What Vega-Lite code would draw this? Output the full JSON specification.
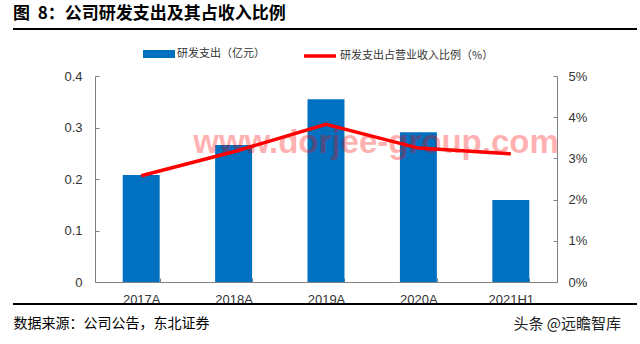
{
  "$schema": "https://vega.github.io/schema/vega-lite/v6.json",
  "width": 462,
  "height": 206,
  "autosize": {"type": "none"},
  "padding": {"left": 95, "top": 76, "right": 83, "bottom": 62},
  "background": "white",
  "config": {
    "view": {"stroke": null},
    "font": "Liberation Sans",
    "axis": {"grid": false, "domainColor": "#808080", "tickColor": "#808080", "labelColor": "#333333", "labelFontSize": 13, "labelFont": "Liberation Sans"}
  },
  "title": {
    "text": "图\u00a0\u00a08：公司研发支出及其占收入比例",
    "anchor": "start",
    "frame": "group",
    "dx": -82,
    "offset": 5,
    "font": "Noto Sans CJK SC",
    "fontSize": 17,
    "fontWeight": "bold",
    "color": "#000000"
  },
  "data": {
    "values": [
      {"year": "2017A", "rd": 0.208, "ratio": 2.58},
      {"year": "2018A", "rd": 0.266, "ratio": 3.16},
      {"year": "2019A", "rd": 0.355, "ratio": 3.83},
      {"year": "2020A", "rd": 0.291, "ratio": 3.25},
      {"year": "2021H1", "rd": 0.159, "ratio": 3.11}
    ]
  },
  "layer": [
    {
      "layer": [
        {
          "mark": {"type": "bar"},
          "encoding": {
            "x": {
              "field": "year", "type": "nominal", "sort": null,
              "scale": {"paddingInner": 0.6, "paddingOuter": 0.3},
              "axis": {
                "title": "数据来源：公司公告，东北证券",
                "titleFont": "Noto Sans CJK SC",
                "titleFontSize": 14,
                "titleFontWeight": "normal",
                "titleColor": "#000000",
                "titleX": -82,
                "titleY": 41,
                "titleAlign": "left",
                "titleBaseline": "middle",
                "titleAnchor": null,
                "labelAngle": 0,
                "tickBand": "extent",
                "tickSize": -4,
                "labelPadding": 15
              }
            },
            "y": {
              "field": "rd", "type": "quantitative",
              "scale": {"domain": [0, 0.4]},
              "axis": {
                "title": null,
                "values": [0, 0.1, 0.2, 0.3, 0.4],
                "labelExpr": "datum.value == 0 ? '0' : format(datum.value, '.1f')",
                "tickSize": -4,
                "labelPadding": 17
              }
            },
            "fill": {
              "datum": "研发支出（亿元）",
              "scale": {"range": ["#0070c0"]},
              "legend": {
                "title": null,
                "orient": "none",
                "legendX": 48,
                "legendY": -38,
                "padding": 0,
                "symbolType": "M-1,-0.25L1,-0.25L1,0.25L-1,0.25Z",
                "symbolSize": 1024,
                "symbolStrokeWidth": 0,
                "labelOffset": 2,
                "labelFont": "Noto Sans CJK SC",
                "labelFontSize": 11,
                "labelColor": "#333333"
              }
            }
          }
        },
        {
          "data": {"values": [{"mark": "www.dorjee-group.com", "year": "2019A", "level": 0.25}]},
          "mark": {"type": "text", "font": "Liberation Sans", "fontWeight": "bold", "fontSize": 33, "color": "#ff0000", "opacity": 0.3, "baseline": "alphabetic", "align": "center", "dx": 50},
          "encoding": {
            "x": {"field": "year", "type": "nominal"},
            "y": {"field": "level", "type": "quantitative"},
            "text": {"field": "mark"}
          }
        }
      ]
    },
    {
      "mark": {"type": "line", "strokeWidth": 3.5},
      "encoding": {
        "x": {"field": "year", "type": "nominal", "sort": null},
        "y": {
          "field": "ratio", "type": "quantitative",
          "scale": {"domain": [0, 5]},
          "axis": {
            "orient": "right",
            "title": "头条 @远瞻智库",
            "titleFont": "Noto Sans CJK SC",
            "titleFontSize": 15,
            "titleFontWeight": "normal",
            "titleColor": "#222222",
            "titleAngle": 0,
            "titleX": -44,
            "titleY": 247,
            "titleAlign": "left",
            "titleBaseline": "middle",
            "titleAnchor": null,
            "values": [0, 1, 2, 3, 4, 5],
            "labelExpr": "datum.value + '%'",
            "tickSize": -4,
            "labelPadding": 15
          }
        },
        "stroke": {
          "datum": "研发支出占营业收入比例（%）",
          "scale": {"range": ["#ff0000"]},
          "legend": {
            "title": null,
            "orient": "none",
            "legendX": 207,
            "legendY": -38,
            "padding": 0,
            "symbolType": "stroke",
            "symbolSize": 1024,
            "symbolStrokeWidth": 3.5,
            "labelOffset": 2,
            "labelFont": "Noto Sans CJK SC",
            "labelFontSize": 11,
            "labelColor": "#333333"
          }
        }
      }
    },
    {
      "mark": {"type": "rule", "color": "#000000", "strokeWidth": 1.5},
      "encoding": {"x": {"value": -82}, "x2": {"value": 542}, "y": {"value": -47}}
    },
    {
      "mark": {"type": "rule", "color": "#000000", "strokeWidth": 1.5},
      "encoding": {"x": {"value": -82}, "x2": {"value": 542}, "y": {"value": 228}}
    }
  ],
  "resolve": {"scale": {"y": "independent", "fill": "independent", "stroke": "independent"}}
}
